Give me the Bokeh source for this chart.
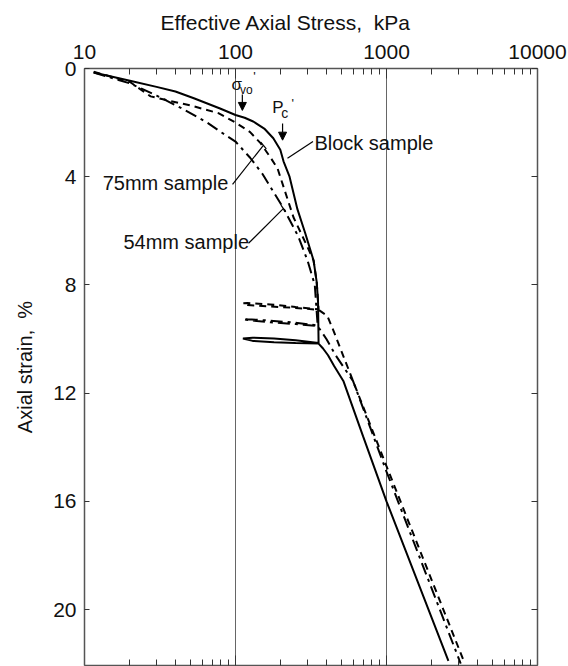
from bokeh.plotting import figure
from bokeh.models import (Range1d, LogAxis, LinearAxis, FixedTicker, Arrow, NormalHead,
                          NumeralTickFormatter)
from bokeh.core.properties import value
from bokeh.embed import file_html
from bokeh.resources import INLINE

# ---------------- data ----------------
block_stress = [11.5, 20, 30, 40, 53, 79, 100, 115, 131, 155, 178, 198, 208, 228, 257, 290, 329, 345, 352, 355,
                250, 180, 130, 112, 130, 180, 250, 355, 380, 410, 450, 518, 700, 1000, 2570]
block_strain = [0.15, 0.45, 0.68, 0.85, 1.1, 1.48, 1.72, 1.82, 1.96, 2.22, 2.58, 3.0, 3.43, 4.0, 5.2, 6.1, 7.1, 7.9, 8.6, 10.15,
                10.05, 9.98, 9.95, 9.98, 10.07, 10.12, 10.15, 10.17, 10.35, 10.6, 11.0, 11.55, 13.6, 16.0, 21.9]

s75_stress = [11.5, 20, 27.4, 37, 50, 77, 100, 125, 147, 171, 190, 242, 300, 329, 345, 355,
              250, 170, 120, 112, 120, 170, 250, 355, 406, 446, 600, 1000, 3300]
s75_strain = [0.12, 0.5, 1.03, 1.2, 1.36, 1.65, 2.0, 2.35, 2.77, 3.3, 3.7, 5.5, 6.6, 7.1, 7.9, 8.9,
              8.82, 8.72, 8.67, 8.68, 8.74, 8.8, 8.85, 8.92, 9.15, 9.7, 11.55, 14.7, 22.0]

s54_stress = [11.5, 20, 30, 45, 65, 80, 100, 125, 151, 180, 208, 260, 300, 335, 350,
              250, 170, 120, 112, 120, 170, 250, 350, 400, 460, 600, 1000, 3100]
s54_strain = [0.15, 0.55, 1.0, 1.5, 2.0, 2.35, 2.7, 3.3, 3.9, 4.6, 5.17, 6.2, 7.1, 8.0, 9.5,
              9.4, 9.32, 9.27, 9.26, 9.3, 9.38, 9.45, 9.52, 10.0, 10.6, 11.55, 14.9, 22.0]

x_ticks = [10, 100, 1000, 10000]
y_ticks = [0, 4, 8, 12, 16, 20]
grid_lines = [100, 1000]

FONT = "Liberation Sans"

p = figure(width=568, height=666, x_axis_type="log", x_range=Range1d(10, 10000),
           y_range=Range1d(22.07, 0), x_axis_location="above",
           output_backend="svg", toolbar_location=None,
           min_border_left=84, min_border_right=31, min_border_top=67, min_border_bottom=1)
p.outline_line_color = None
p.background_fill_color = "white"
p.border_fill_color = "white"

p.title.text = "Effective Axial Stress,\u00a0 kPa"
p.title.align = "left"
p.title.offset = 76
p.title.text_font = FONT
p.title.text_font_size = "21px"
p.title.text_font_style = "normal"
p.title.text_color = "#111111"
p.title.standoff = 16

minor = [m * d for d in (10, 100, 1000) for m in range(2, 10)]

def style_axis(ax, labels=True):
    ax.axis_line_color = "#555555"
    ax.axis_line_width = 1.5
    ax.major_tick_line_color = "#333333"
    ax.minor_tick_line_color = "#333333"
    ax.major_tick_out = 0
    ax.minor_tick_out = 0
    ax.major_label_text_font = FONT
    ax.major_label_text_font_size = "21px" if labels else "1px"
    ax.major_label_text_color = "#111111"
    ax.axis_label_text_font = FONT
    ax.axis_label_text_font_style = "normal"
    ax.axis_label_text_color = "#111111"

# top axis
top = p.xaxis[0]
top.ticker = FixedTicker(ticks=x_ticks, minor_ticks=minor)
top.formatter = NumeralTickFormatter(format="0")
style_axis(top)
top.major_tick_in = 10
top.minor_tick_in = 6
top.major_label_standoff = 10

# bottom axis (ticks only)
bottom = LogAxis(ticker=FixedTicker(ticks=x_ticks, minor_ticks=minor),
                 major_label_overrides={t: "" for t in x_ticks})
style_axis(bottom, labels=False)
bottom.major_tick_in = 10
bottom.minor_tick_in = 6
bottom.major_label_standoff = 0
p.add_layout(bottom, "below")

# left axis
left = p.yaxis[0]
left.ticker = FixedTicker(ticks=y_ticks)
style_axis(left)
left.major_tick_in = 5
left.minor_tick_in = 0
left.major_label_standoff = 8
left.axis_label = "Axial strain,\u00a0 %"
left.axis_label_text_font_size = "20px"
left.axis_label_standoff = 14

# right axis
right = LinearAxis(ticker=FixedTicker(ticks=y_ticks),
                   major_label_overrides={t: "" for t in y_ticks})
style_axis(right, labels=False)
right.major_tick_in = 6
right.minor_tick_in = 0
right.major_label_standoff = 0
p.add_layout(right, "right")

p.xgrid.ticker = FixedTicker(ticks=grid_lines)
p.xgrid.grid_line_color = "#666666"
p.xgrid.grid_line_width = 1
p.ygrid.grid_line_color = None

# curves
p.line(block_stress, block_strain, line_color="black", line_width=2)
p.line(s75_stress, s75_strain, line_color="black", line_width=2, line_dash="7 5")
p.line(s54_stress, s54_strain, line_color="black", line_width=2, line_dash="12 5 3 5")

# labels
TXT = dict(text_font=value(FONT), text_color="#111111", text_baseline="middle")
p.text(x=[333], y=[2.77], text=["Block sample"], text_font_size="20px", text_align="left", **TXT)
p.text(x=[13.2], y=[4.24], text=["75mm sample"], text_font_size="20px", text_align="left", **TXT)
p.text(x=[18.1], y=[6.43], text=["54mm sample"], text_font_size="20px", text_align="left", **TXT)

# leader lines
p.segment(x0=[326], y0=[2.7], x1=[221], y1=[3.32], line_color="black", line_width=1.2)
p.segment(x0=[95.6], y0=[4.28], x1=[153], y1=[2.84], line_color="black", line_width=1.2)
p.segment(x0=[147], y0=[2.72], x1=[160], y1=[2.97], line_color="black", line_width=1.2)
p.segment(x0=[122], y0=[6.46], x1=[208], y1=[5.17], line_color="black", line_width=1.2)
p.segment(x0=[200], y0=[5.05], x1=[215], y1=[5.3], line_color="black", line_width=1.2)

# sigma_vo' and Pc'
p.text(x=[94], y=[0.6], text=["σ"], text_font_size="17px", text_align="left", **TXT)
p.text(x=[107], y=[0.78], text=["vo"], text_font_size="12px", text_align="left", **TXT)
p.text(x=[131], y=[0.3], text=["'"], text_font_size="13px", text_align="left", **TXT)
p.text(x=[175], y=[1.45], text=["P"], text_font_size="17px", text_align="left", **TXT)
p.text(x=[201], y=[1.66], text=["c"], text_font_size="14px", text_align="left", **TXT)
p.text(x=[235], y=[1.3], text=["'"], text_font_size="13px", text_align="left", **TXT)

p.add_layout(Arrow(x_start=111, y_start=0.96, x_end=111, y_end=1.55, line_width=1.2,
                   end=NormalHead(size=8, fill_color="black", line_color="black")))
p.add_layout(Arrow(x_start=205, y_start=2.03, x_end=205, y_end=2.65, line_width=1.2,
                   end=NormalHead(size=8, fill_color="black", line_color="black")))

open("out.html", "w").write(file_html(p, INLINE))
